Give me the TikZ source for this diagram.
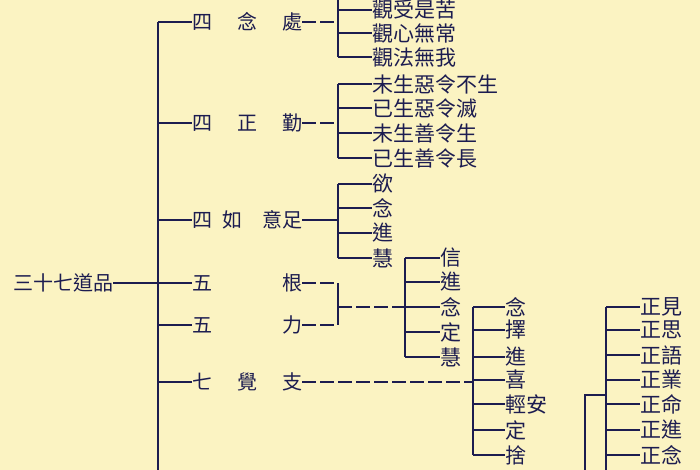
\documentclass[tikz,border=0pt]{standalone}
\usepackage{fontspec}
\newfontfamily\cjk{Noto Sans CJK TC}
\definecolor{bg}{HTML}{FBF3C2}
\definecolor{ink}{HTML}{1C1C50}
\tikzset{
 lbl/.style={anchor=west,inner sep=0pt,font=\cjk\fontsize{20}{20}\selectfont,text=ink},
 itm/.style={anchor=west,inner sep=0pt,font=\cjk\fontsize{21}{21}\selectfont,text=ink},
 ln/.style={draw=ink,line width=1.3pt},
 dsh/.style={ln,dash pattern=on 14pt off 4pt}
}
\begin{document}
\begin{tikzpicture}[x=1pt,y=-1pt]
\fill[bg] (0,0) rectangle (700,470);
\useasboundingbox (0,0) rectangle (700,470);
\clip (0,0) rectangle (700,470);
% root
\node[lbl] (root) at (13,283) {三十七道品};
\coordinate (sp) at (158,283);
\draw[ln] (root.east) -- (sp);
\draw[ln] (158,22) -- (158,480);
% level 1
\node[lbl] (g1) at (192,22) {四\hspace{25pt}念\hspace{25pt}處};
\node[lbl] (g2) at (192,123) {四\hspace{25pt}正\hspace{25pt}勤};
\node[lbl] (g3) at (192,220) {四\hspace{10pt}如\hspace{20pt}意足};
\node[lbl] (g4) at (192,283) {五\hspace{70pt}根};
\node[lbl] (g5) at (192,325) {五\hspace{70pt}力};
\node[lbl] (g6) at (192,382) {七\hspace{25pt}覺\hspace{25pt}支};
\node[lbl] (g7) at (192,486) {八\hspace{25pt}正\hspace{25pt}道};
\foreach \g/\y in {g1/22,g2/123,g3/220,g4/283,g5/325,g6/382,g7/486}
  \draw[ln] (158,\y) -- (\g.west);
% group 1
\draw[dsh] (g1.east) -- (338,22);
\draw[ln] (338,-20) -- (338,57);
\foreach \t/\y [count=\i] in {觀身不淨/-14,觀受是苦/10,觀心無常/33,觀法無我/57}{
  \node[itm] (a\i) at (372,\y) {\t};
  \draw[ln] (338,\y) -- (a\i.west);}
% group 2
\draw[dsh] (g2.east) -- (338,123);
\draw[ln] (338,84) -- (338,158);
\foreach \t/\y [count=\i] in {未生惡令不生/84,已生惡令滅/108,未生善令生/133,已生善令長/158}{
  \node[itm] (b\i) at (372,\y) {\t};
  \draw[ln] (338,\y) -- (b\i.west);}
% group 3
\draw[ln] (g3.east) -- (338,220);
\draw[ln] (338,184) -- (338,258);
\foreach \t/\y [count=\i] in {欲/184,念/208,進/233,慧/258}{
  \node[itm] (c\i) at (372,\y) {\t};
  \draw[ln] (338,\y) -- (c\i.west);}
% group 4/5
\draw[dsh] (g4.east) -- (338,283);
\draw[dsh] (g5.east) -- (338,325);
\draw[ln] (338,283) -- (338,325);
\draw[dsh] (338,307) -- (405,307);
\draw[ln] (405,258) -- (405,357);
\foreach \t/\y [count=\i] in {信/258,進/282,念/307,定/332,慧/357}{
  \node[itm] (d\i) at (440,\y) {\t};
  \draw[ln] (405,\y) -- (d\i.west);}
% group 6
\draw[dsh] (g6.east) -- (473,382);
\draw[ln] (473,307) -- (473,455);
\foreach \t/\y [count=\i] in {念/307,擇/330,進/357,喜/380,輕安/404,定/430,捨/455}{
  \node[itm] (e\i) at (505,\y) {\t};
  \draw[ln] (473,\y) -- (e\i.west);}
% group 7
\coordinate (h7) at (585,486);
\draw[ln] (585,480) -- (585,395) -- (606,395);
\draw[ln] (606,307) -- (606,480);
\foreach \t/\y [count=\i] in {正見/307,正思/330,正語/355,正業/380,正命/404,正進/430,正念/455,正定/480}{
  \node[itm] (f\i) at (640,\y) {\t};
  \draw[ln] (606,\y) -- (f\i.west);}
\end{tikzpicture}
\end{document}
